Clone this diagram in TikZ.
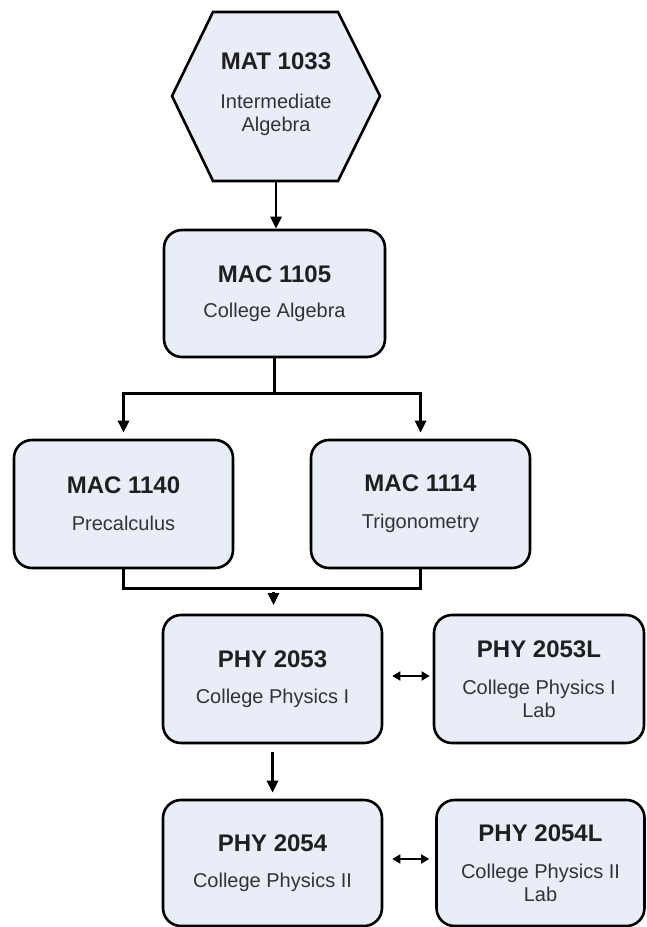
\documentclass[tikz,border=0pt]{standalone}
\usepackage{fontspec}
\setmainfont{Liberation Sans}
\usepackage{tikz}
\usetikzlibrary{arrows.meta}
\definecolor{boxfill}{RGB}{232,237,248}
\newcommand{\ccode}[1]{{\fontsize{24}{28}\selectfont\bfseries\color{black!88}#1}}

\begin{document}
\begin{tikzpicture}[x=1pt,y=-1pt,
  course/.style={draw,line width=2.6pt,rounded corners=18pt,fill=boxfill,
    minimum width=219pt,minimum height=127pt,inner sep=0pt,align=center,
    font=\fontsize{20}{23}\selectfont,text=black!80},
  link/.style={line width=2.6pt,-{Triangle[length=12pt,width=11pt]}},
  pair/.style={line width=1.7pt,{Triangle[length=8pt,width=9pt]}-{Triangle[length=8pt,width=9pt]}}]
\useasboundingbox (0,0) rectangle (646,927);
\draw[line width=2.6pt,fill=boxfill,line join=miter] (213,12)--(338,12)--(380,96)--(338,181)--(213,181)--(172,96)--cycle;
\node[align=center,font=\fontsize{20}{23}\selectfont,text=black!80] (mat1033) at (276,94) {\ccode{MAT 1033}\\[16pt]Intermediate\\Algebra};
\coordinate (matS) at (276,181);
\node[course,minimum width=221pt] (mac1105) at (274.5,293.5) {\ccode{MAC 1105}\\[12pt]College Algebra};
\node[course,minimum height=128pt] (mac1140) at (123.5,504) {\ccode{MAC 1140}\\[14pt]Precalculus};
\node[course,minimum height=128pt] (mac1114) at (420.5,504) {\ccode{MAC 1114}\\[14pt]Trigonometry};
\node[course,minimum height=128pt] (phy2053) at (272.5,679) {\ccode{PHY 2053}\\[13pt]College Physics I};
\node[course,minimum height=128pt,minimum width=210pt] (phy2053L) at (539,679) {\ccode{PHY 2053L}\\[14pt]College Physics I\\Lab};
\node[course,minimum height=126pt] (phy2054) at (272.5,863) {\ccode{PHY 2054}\\[13pt]College Physics II};
\node[course,minimum height=126pt,minimum width=208pt] (phy2054L) at (540.5,863) {\ccode{PHY 2054L}\\[14pt]College Physics II\\Lab};
\draw[link] (matS) -- (matS |- mac1105.north);
\draw[link,shorten >=6pt] (mac1105.south) -- ++(0,35) -| (mac1140.north);
\draw[link,shorten >=6pt] (mac1105.south) -- ++(0,35) -| (mac1114.north);
\draw[line width=2.6pt] (mac1140.south) -- ++(0,19) -| (mac1114.south);
\coordinate (dropS) at (273.5,592);
\coordinate (dropE) at (273.5,605);
\draw[link] (dropS) -- (dropE);
\draw[link,shorten <=8pt,shorten >=6pt] (phy2053) -- (phy2054);
\draw[pair,shorten <=9pt,shorten >=3pt] ([yshift=3pt]phy2053.east) -- ([yshift=3pt]phy2053.east -| phy2053L.west);
\draw[pair,shorten <=9pt,shorten >=6pt] ([yshift=4pt]phy2054.east) -- ([yshift=4pt]phy2054.east -| phy2054L.west);
\end{tikzpicture}
\end{document}
